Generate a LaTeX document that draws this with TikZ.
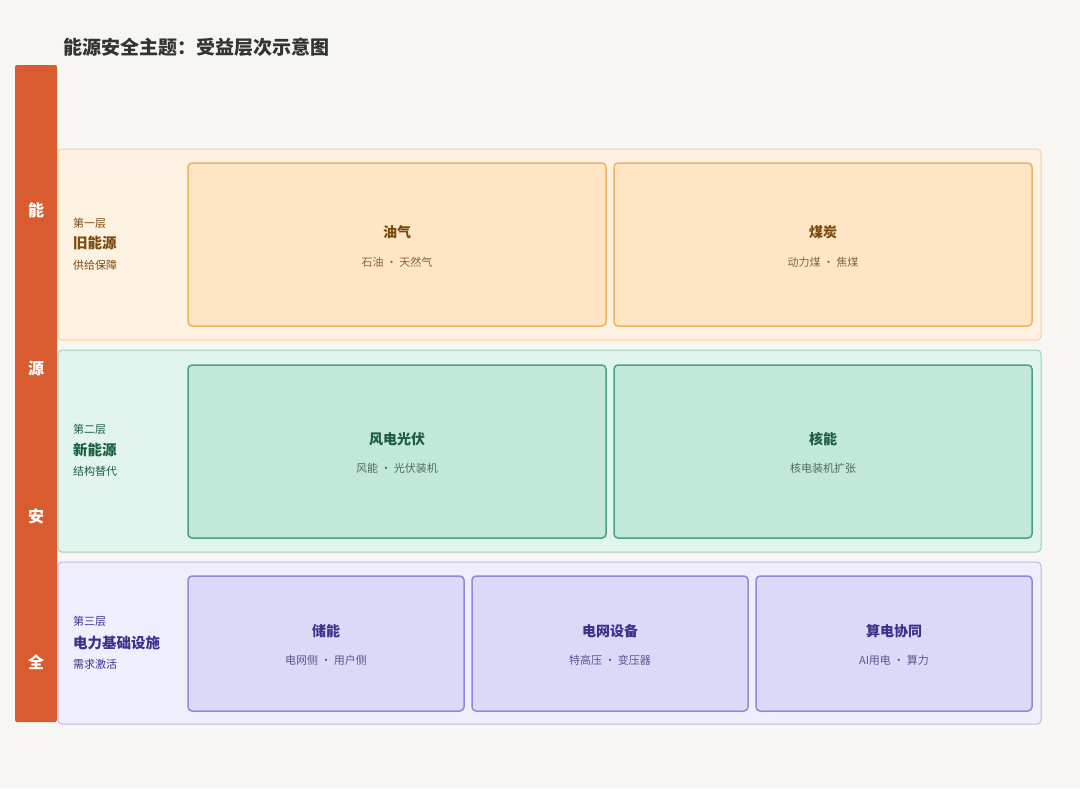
\documentclass[tikz,border=0pt]{standalone}
\usepackage{fontspec}
\setmainfont{Noto Sans CJK SC}
\usetikzlibrary{positioning}
\definecolor{paper}{HTML}{F7F6F3}
\definecolor{barc}{HTML}{D95B30}
\definecolor{oldfill}{HTML}{FDF2E1}\definecolor{olddraw}{HTML}{F7CF9A}
\definecolor{oldcell}{HTML}{FDE5C5}\definecolor{oldline}{HTML}{F0B25E}
\definecolor{oldtext}{HTML}{7A4A0E}\definecolor{oldsub}{HTML}{8A6440}
\definecolor{newfill}{HTML}{E2F4EE}\definecolor{newdraw}{HTML}{94D3B9}
\definecolor{newcell}{HTML}{C2E8DA}\definecolor{newline}{HTML}{45A47E}
\definecolor{newtext}{HTML}{1B5E40}\definecolor{newsub}{HTML}{4A6E5E}
\definecolor{gridfill}{HTML}{EFEEFD}\definecolor{griddraw}{HTML}{BCB7EC}
\definecolor{gridcell}{HTML}{DCD9F8}\definecolor{gridline}{HTML}{9088D8}
\definecolor{gridtext}{HTML}{3B318F}\definecolor{gridsub}{HTML}{5A5490}
\tikzset{band/.style 2 args={draw=#1, fill=#2, line width=1pt, rounded corners=4pt, inner sep=0pt},
  cell/.style 2 args={draw=#1, fill=#2, line width=1.5pt, rounded corners=4pt, inner sep=0pt},
  head/.style={font=\fontsize{14}{16}\selectfont\bfseries, inner sep=0pt},
  note/.style={font=\fontsize{11}{13}\selectfont, inner sep=0pt},
  tag/.style={font=\fontsize{11}{13}\selectfont, inner sep=0pt, anchor=west},
  tagname/.style={font=\fontsize{14.5}{16}\selectfont\bfseries, inner sep=0pt, anchor=west}}

\begin{document}
\begin{tikzpicture}[x=1pt,y=-1pt]
   \fill[paper] (0,0) rectangle (1080,788);
   \useasboundingbox (0,0) rectangle (1080,788);
   \node[anchor=west, inner sep=0pt, text=black!80, font=\fontsize{19}{21}\selectfont\bfseries] (title) at (63,47) {能源安全主题：受益层次示意图};
   % side bar
   \node[fill=barc, rounded corners=2pt, minimum width=42pt, minimum height=657pt, inner sep=0pt] (bar) at (36,393.5) {};
   \foreach \ch/\y in {能/210, 源/368, 安/516, 全/662}
     \node[text=white, font=\fontsize{16}{18}\selectfont\bfseries, inner sep=0pt] at (36,\y) {\ch};
   % first layer
   \begin{scope}
    \node[band={olddraw}{oldfill}, minimum width=983pt, minimum height=191pt] (old) at (549.5,244.5) {};
    \node[tag, text=oldtext] (oldno) at (73,223) {第一层};
    \node[tagname, text=oldtext] (oldname) at (73,243) {旧能源};
    \node[tag, text=oldtext] (oldrole) at (73,265) {供给保障};
    \node[cell={oldline}{oldcell}, minimum width=418pt, minimum height=163pt] (oil) at (397,244.5) {};
    \node[head, text=oldtext] at ([yshift=12.5pt]oil.center) {油气};
    \node[note, text=oldsub] at ([yshift=-17.5pt]oil.center) {石油 · 天然气};
    \node[cell={oldline}{oldcell}, minimum width=418pt, minimum height=163pt] (coal) at (823,244.5) {};
    \node[head, text=oldtext] at ([yshift=12.5pt]coal.center) {煤炭};
    \node[note, text=oldsub] at ([yshift=-17.5pt]coal.center) {动力煤 · 焦煤};
   \end{scope}
   % second layer
   \begin{scope}
    \node[band={newdraw}{newfill}, minimum width=983pt, minimum height=202pt] (new) at (549.5,451) {};
    \node[tag, text=newtext] (newno) at (73,429) {第二层};
    \node[tagname, text=newtext] (newname) at (73,450) {新能源};
    \node[tag, text=newtext] (newrole) at (73,471) {结构替代};
    \node[cell={newline}{newcell}, minimum width=418pt, minimum height=173pt] (wind) at (397,451.5) {};
    \node[head, text=newtext] at ([yshift=12.5pt]wind.center) {风电光伏};
    \node[note, text=newsub] at ([yshift=-16.5pt]wind.center) {风能 · 光伏装机};
    \node[cell={newline}{newcell}, minimum width=418pt, minimum height=173pt] (nuke) at (823,451.5) {};
    \node[head, text=newtext] at ([yshift=12.5pt]nuke.center) {核能};
    \node[note, text=newsub] at ([yshift=-16.5pt]nuke.center) {核电装机扩张};
   \end{scope}
   % third layer
   \begin{scope}
    \node[band={griddraw}{gridfill}, minimum width=983pt, minimum height=162pt] (grid) at (549.5,643) {};
    \node[tag, text=gridtext] (gridno) at (73,621) {第三层};
    \node[tagname, text=gridtext] (gridname) at (73,643) {电力基础设施};
    \node[tag, text=gridtext] (gridrole) at (73,664) {需求激活};
    \foreach \name/\x/\head/\note in {store/326/储能/电网侧 · 用户侧, equip/610/电网设备/特高压 · 变压器, compute/894/算电协同/AI用电 · 算力} {
      \node[cell={gridline}{gridcell}, minimum width=276pt, minimum height=135pt] (\name) at (\x,643.5) {};
      \node[head, text=gridtext] at ([yshift=12.5pt]\name.center) {\head};
      \node[note, text=gridsub] at ([yshift=-16.5pt]\name.center) {\note};
    }
   \end{scope}
\end{tikzpicture}
\end{document}
